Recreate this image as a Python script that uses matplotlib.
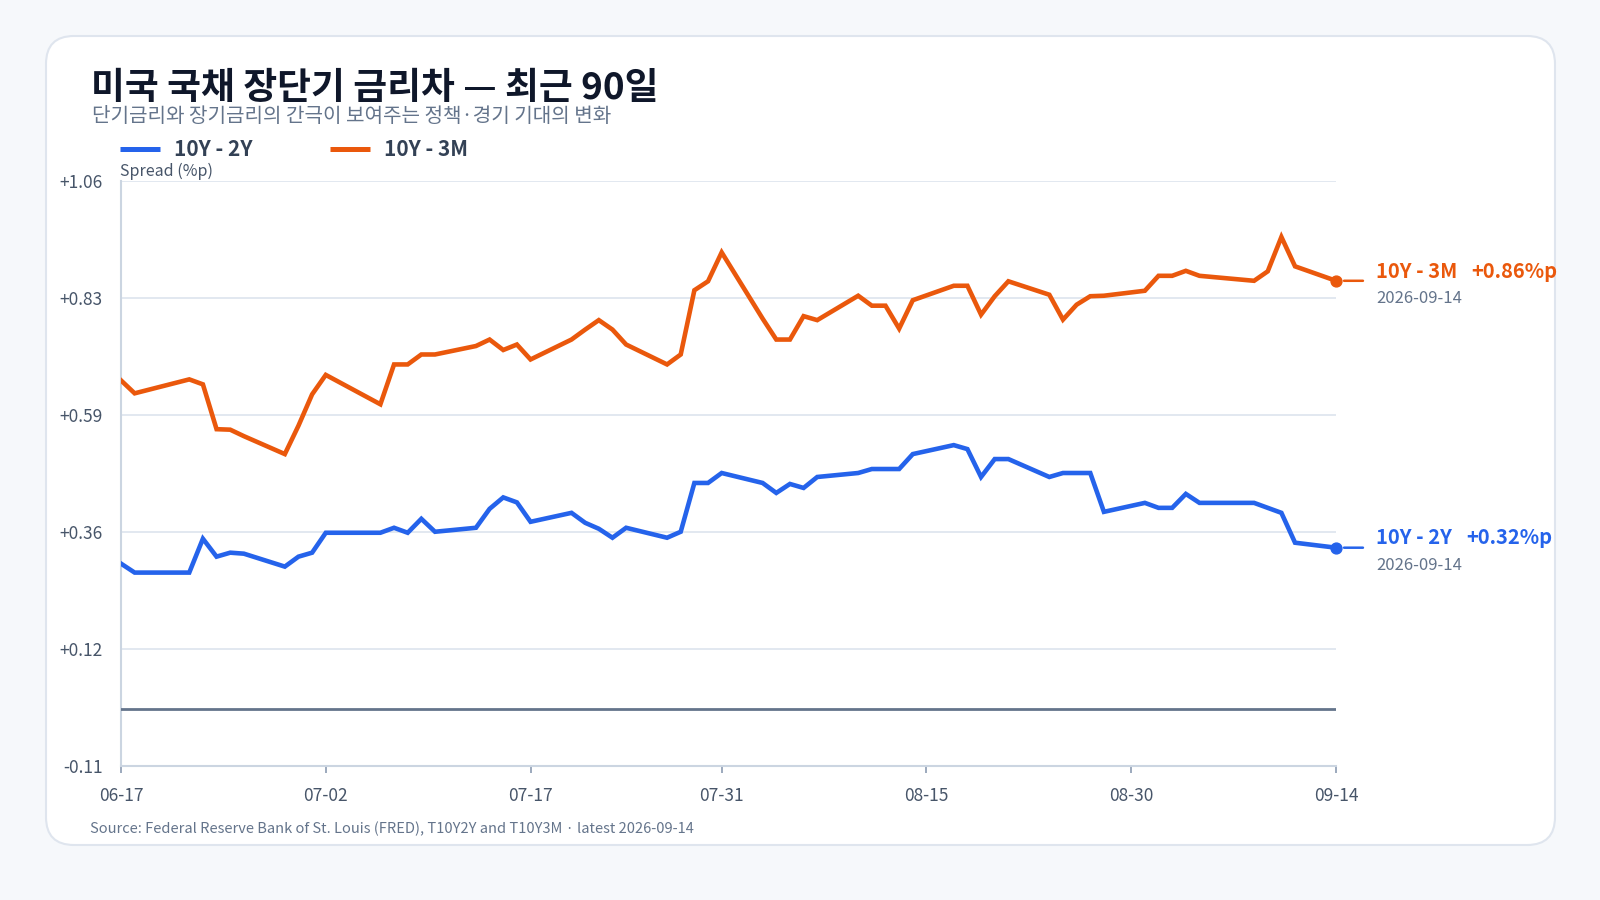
import numpy as np
import matplotlib
matplotlib.use("Agg")
import matplotlib.pyplot as plt
import matplotlib.dates as mdates
from matplotlib.patches import FancyBboxPatch
from matplotlib.lines import Line2D
from matplotlib.transforms import IdentityTransform

plt.rcParams['font.family'] = ['Noto Sans CJK KR', 'DejaVu Sans']

# ---------------- data ----------------
dates = [
    "2026-06-17", "2026-06-18", "2026-06-22", "2026-06-23", "2026-06-24", "2026-06-25", "2026-06-26",
    "2026-06-29", "2026-06-30", "2026-07-01", "2026-07-02", "2026-07-06", "2026-07-07", "2026-07-08",
    "2026-07-09", "2026-07-10", "2026-07-13", "2026-07-14", "2026-07-15", "2026-07-16", "2026-07-17",
    "2026-07-20", "2026-07-21", "2026-07-22", "2026-07-23", "2026-07-24", "2026-07-27", "2026-07-28",
    "2026-07-29", "2026-07-30", "2026-07-31", "2026-08-03", "2026-08-04", "2026-08-05", "2026-08-06",
    "2026-08-07", "2026-08-10", "2026-08-11", "2026-08-12", "2026-08-13", "2026-08-14", "2026-08-17",
    "2026-08-18", "2026-08-19", "2026-08-20", "2026-08-21", "2026-08-24", "2026-08-25", "2026-08-26",
    "2026-08-27", "2026-08-28", "2026-08-31", "2026-09-01", "2026-09-02", "2026-09-03", "2026-09-04",
    "2026-09-08", "2026-09-09", "2026-09-10", "2026-09-11", "2026-09-14",
]
spread_10y2y = [
    0.291, 0.273, 0.273, 0.341, 0.305, 0.313, 0.311,
    0.285, 0.305, 0.313, 0.353, 0.353, 0.363, 0.353,
    0.381, 0.355, 0.363, 0.401, 0.424, 0.414, 0.375,
    0.393, 0.373, 0.361, 0.343, 0.363, 0.343, 0.355,
    0.453, 0.453, 0.473, 0.453, 0.433, 0.451, 0.443,
    0.465, 0.473, 0.481, 0.481, 0.481, 0.511, 0.529,
    0.521, 0.465, 0.501, 0.501, 0.465, 0.473, 0.473,
    0.473, 0.395, 0.413, 0.403, 0.403, 0.431, 0.413,
    0.413, 0.403, 0.393, 0.333, 0.323,
]
spread_10y3m = [
    0.659, 0.633, 0.661, 0.651, 0.561, 0.560, 0.547,
    0.511, 0.568, 0.631, 0.670, 0.611, 0.691, 0.691,
    0.711, 0.711, 0.728, 0.741, 0.720, 0.731, 0.701,
    0.741, 0.761, 0.780, 0.761, 0.731, 0.691, 0.711,
    0.840, 0.858, 0.916, 0.783, 0.741, 0.741, 0.788,
    0.780, 0.829, 0.809, 0.809, 0.763, 0.820, 0.849,
    0.849, 0.791, 0.828, 0.858, 0.831, 0.781, 0.811,
    0.828, 0.829, 0.839, 0.869, 0.869, 0.879, 0.869,
    0.859, 0.878, 0.947, 0.888, 0.859,
]
series_names = ["10Y - 2Y", "10Y - 3M"]
series_values_text = ["+0.32%p", "+0.86%p"]
latest_label = "2026-09-14"
ytick_values = [-0.1148, 0.1202, 0.3552, 0.5901, 0.8251, 1.06]
ytick_labels = ["-0.11", "+0.12", "+0.36", "+0.59", "+0.83", "+1.06"]
xtick_year = "2026"
xtick_labels = ["06-17", "07-02", "07-17", "07-31", "08-15", "08-30", "09-14"]

title = "미국 국채 장단기 금리차 — 최근 90일"
subtitle = "단기금리와 장기금리의 간극이 보여주는 정책·경기 기대의 변화"
y_label = "Spread (%p)"
source = "Source: Federal Reserve Bank of St. Louis (FRED), T10Y2Y and T10Y3M · latest 2026-09-14"

BLUE = "#2563eb"
ORANGE = "#ea580c"
DARK = "#0f172a"
SLATE = "#334155"
MUTED = "#64748b"
TICK = "#475569"
GRID = "#e2e8f0"

# ---------------- figure ----------------
W, H = 1600, 900
fig = plt.figure(figsize=(16, 9), dpi=100, facecolor="#f6f8fb")

card = FancyBboxPatch((46, 55), 1509, 809, boxstyle="round,pad=0,rounding_size=28",
                      transform=IdentityTransform(), facecolor="white",
                      edgecolor="#dfe5ee", linewidth=1.5, zorder=-5)
fig.add_artist(card)

def fx(px):
    return px / W

def fy(py):
    return 1 - py / H

ax = fig.add_axes([fx(121), fy(765.7), fx(1336) - fx(121), fy(180.7) - fy(765.7)])
ax.set_facecolor("none")

x = np.array(dates, dtype="datetime64[D]")
xn = mdates.date2num(x)

ax.plot(xn, spread_10y3m, color=ORANGE, lw=3.3, solid_joinstyle="miter", zorder=4)
ax.plot(xn, spread_10y2y, color=BLUE, lw=3.3, solid_joinstyle="miter", zorder=4)
ax.axhline(0, color=MUTED, lw=2.0, zorder=3)

ax.set_xlim(xn[0], xn[-1])
ax.set_ylim(ytick_values[0], ytick_values[-1])

ax.set_yticks(ytick_values)
ax.set_yticklabels(ytick_labels)
xtick_pos = mdates.date2num(np.array([f"{xtick_year}-{l}" for l in xtick_labels], dtype="datetime64[D]"))
ax.set_xticks(xtick_pos)
ax.set_xticklabels(xtick_labels)

ax.grid(axis="y", color=GRID, lw=1.4, zorder=0)
ax.grid(axis="x", visible=False)
for s in ["top", "right"]:
    ax.spines[s].set_visible(False)
for s in ["left", "bottom"]:
    ax.spines[s].set_color("#cbd5e1")
    ax.spines[s].set_linewidth(1.5)
ax.tick_params(axis="y", length=0, pad=13, labelsize=12.5, labelcolor=TICK)
ax.tick_params(axis="x", length=5, width=1.3, color="#94a3b8", pad=10,
               labelsize=12.5, labelcolor=TICK)

# end labels
for vals, color, name, vtxt in [(spread_10y3m, ORANGE, series_names[1], series_values_text[1]),
                                (spread_10y2y, BLUE, series_names[0], series_values_text[0])]:
    xl, yl = xn[-1], vals[-1]
    ax.plot([xl], [yl], "o", color=color, ms=7.8, clip_on=False, zorder=6)
    ax.annotate("", xy=(xl, yl), xytext=(19.4, 0), textcoords="offset points",
                arrowprops=dict(arrowstyle="-", color=color, lw=1.8, shrinkA=0, shrinkB=5.8),
                annotation_clip=False)
    t = ax.annotate(name, xy=(xl, yl), xytext=(28.8, 7.0), textcoords="offset points",
                    ha="left", va="center", color=color, fontsize=14.5, fontweight="bold",
                    annotation_clip=False)
    ax.annotate(vtxt, xy=(1, 0), xycoords=t, xytext=(10, 0), textcoords="offset points",
                ha="left", va="bottom", color=color, fontsize=14.5, fontweight="bold",
                annotation_clip=False)
    ax.annotate(latest_label, xy=(xl, yl), xytext=(28.8, -12.6), textcoords="offset points",
                ha="left", va="center", color=MUTED, fontsize=12, annotation_clip=False)

# titles
fig.text(fx(91), fy(89), title, fontsize=26.5, fontweight="bold", color=DARK, ha="left", va="center")
fig.text(fx(92), fy(116), subtitle, fontsize=14.5, color=MUTED, ha="left", va="center")

# legend
for (x0, x1, tx), color, name in [((120, 160, 174), BLUE, series_names[0]),
                                   ((330, 370, 384), ORANGE, series_names[1])]:
    fig.add_artist(Line2D([fx(x0), fx(x1)], [fy(149), fy(149)], transform=fig.transFigure,
                          color=color, lw=3.6, solid_capstyle="butt"))
    fig.text(fx(tx), fy(150), name, fontsize=15, fontweight="bold", color=SLATE,
             ha="left", va="center")

fig.text(fx(120), fy(171), y_label, fontsize=11.5, color=TICK, ha="left", va="center")
fig.text(fx(90), fy(829), source, fontsize=10.5, color=MUTED, ha="left", va="center")

fig.savefig("out.png", dpi=100, facecolor=fig.get_facecolor())
